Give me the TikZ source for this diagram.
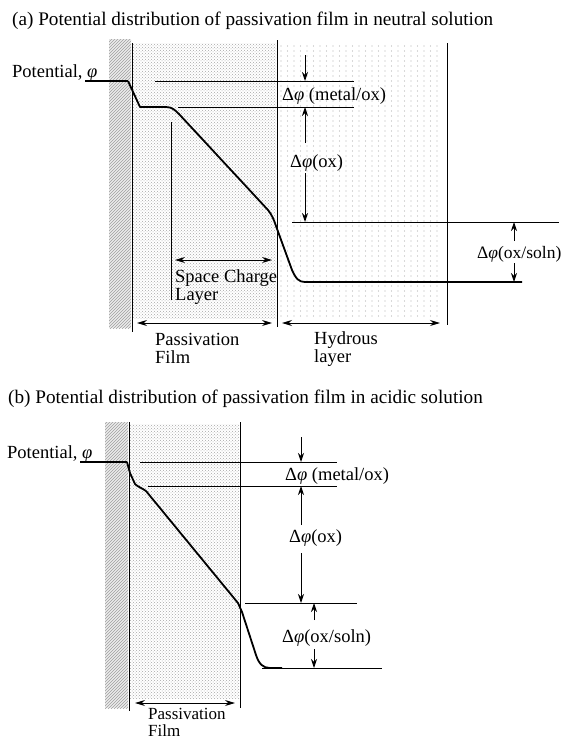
\documentclass[tikz,border=0pt]{standalone}
\usepackage{fontspec}
\setmainfont{Liberation Serif}
\usetikzlibrary{patterns,arrows.meta}
\begin{document}
\begin{tikzpicture}[x=1pt,y=-1pt,
  lbl/.style={font=\fontsize{18.5}{18}\selectfont, inner sep=0pt, align=left},
  ttl/.style={font=\fontsize{19.2}{20}\selectfont, inner sep=0pt},
  thinline/.style={line width=0.9pt},
  curveline/.style={line width=1.8pt, line join=round},
  dimarrow/.style={line width=0.9pt, -{Stealth[length=9pt,width=6pt]}},
  dblarrow/.style={line width=0.9pt, {Stealth[length=10pt,width=6pt]}-{Stealth[length=10pt,width=6pt]}},
  stipple/.style={pattern=crosshatch dots, pattern color=gray!70},
  hatchbar/.style={pattern=north east lines, pattern color=gray!75},
]
\useasboundingbox (0,0) rectangle (564,742);

% ================= (a) =================
\fill[stipple] (133,43) rectangle (276,318);
\foreach \x in {281,287.5,...,438} \foreach \y in {46,51,...,318} \fill[gray!60] (\x,\y) circle (0.55pt);
\fill[gray!15] (109,39) rectangle (131,328);
\fill[hatchbar] (109,39) rectangle (131,328);

\coordinate (am1) at (132,43);  \coordinate (am2) at (132,332);
\coordinate (af1) at (277,40);  \coordinate (af2) at (277,327);
\coordinate (ar1) at (447,43);  \coordinate (ar2) at (447,325);
\coordinate (as1) at (171,122); \coordinate (as2) at (171,300);
\draw[thinline] (am1) -- (am2);
\draw[thinline] (af1) -- (af2);
\draw[thinline] (ar1) -- (ar2);
\draw[thinline] (as1) -- (as2);

\coordinate (al1a) at (155,81);  \coordinate (al1b) at (354,81);
\coordinate (al2a) at (178,107); \coordinate (al2b) at (354,107);
\coordinate (al3a) at (292,222); \coordinate (al3b) at (559,222);
\draw[thinline] (al1a) -- (al1b);
\draw[thinline] (al2a) -- (al2b);
\draw[thinline] (al3a) -- (al3b);

\coordinate (ap0) at (85,81);
\coordinate (ap1) at (128,81);
\draw[line width=1.2pt] (ap0) -- (ap1);
\draw[curveline] (ap1) -- (140,107) -- (166,107)
  .. controls (172,107) and (175,110) .. (179,114) -- (268,210)
  .. controls (272,215) and (274,220) .. (276,226) -- (292,270)
  .. controls (296,279) and (299,282) .. (305,282) -- (522,282);

\node[ttl, anchor=base west] (ta) at (12,25) {(a) Potential distribution of passivation film in neutral solution};
\node[lbl, anchor=base west] (apot) at (12,77) {Potential, \textit{φ}};
\node[lbl, anchor=base west] (amo) at (282,100) {Δ\textit{φ} (metal/ox)};
\node[lbl, anchor=base west] (aox) at (290,167) {Δ\textit{φ}(ox)};
\node[lbl, font=\fontsize{17.5}{18}\selectfont, anchor=base west] (aos) at (477,258) {Δ\textit{φ}(ox/soln)};
\node[lbl, anchor=base west] (asc) at (175,300) {Space Charge\\Layer};
\node[lbl, anchor=base west] (apf) at (155,363) {Passivation\\Film};
\node[lbl, anchor=base west] (ahy) at (314,362) {Hydrous\\layer};

\coordinate (ad1a) at (305,55);  \coordinate (ad1b) at (305,81);
\coordinate (ad2a) at (305,143); \coordinate (ad2b) at (305,107);
\coordinate (ad3a) at (305,173); \coordinate (ad3b) at (305,222);
\coordinate (ad4a) at (514,241); \coordinate (ad4b) at (514,222);
\coordinate (ad5a) at (514,263); \coordinate (ad5b) at (514,282);
\draw[dimarrow] (ad1a) -- (ad1b);
\draw[dimarrow] (ad2a) -- (ad2b);
\draw[dimarrow] (ad3a) -- (ad3b);
\draw[dimarrow] (ad4a) -- (ad4b);
\draw[dimarrow] (ad5a) -- (ad5b);

\coordinate (ah1a) at (175,260); \coordinate (ah1b) at (272,260);
\coordinate (ah2a) at (137,323); \coordinate (ah2b) at (272,323);
\coordinate (ah3a) at (282,323); \coordinate (ah3b) at (440,323);
\draw[dblarrow] (ah1a) -- (ah1b);
\draw[dblarrow] (ah2a) -- (ah2b);
\draw[dblarrow] (ah3a) -- (ah3b);

% ================= (b) =================
\fill[stipple] (130,424) rectangle (239,698);
\fill[gray!15] (105,422) rectangle (128,708);
\fill[hatchbar] (105,422) rectangle (128,708);

\coordinate (bm1) at (129,422); \coordinate (bm2) at (129,711);
\coordinate (bf1) at (240,422); \coordinate (bf2) at (240,708);
\draw[thinline] (bm1) -- (bm2);
\draw[thinline] (bf1) -- (bf2);

\coordinate (bl1a) at (140,462); \coordinate (bl1b) at (337,462);
\coordinate (bl2a) at (148,486); \coordinate (bl2b) at (337,486);
\coordinate (bl3a) at (245,603); \coordinate (bl3b) at (357,603);
\coordinate (bl4a) at (262,668); \coordinate (bl4b) at (382,668);
\draw[thinline] (bl1a) -- (bl1b);
\draw[thinline] (bl2a) -- (bl2b);
\draw[thinline] (bl3a) -- (bl3b);
\draw[thinline] (bl4a) -- (bl4b);

\coordinate (bp0) at (80,462);
\coordinate (bp1) at (127,462);
\draw[line width=1.2pt] (bp0) -- (bp1);
\draw[curveline] (bp1) -- (130,473) -- (135,484)
  .. controls (138,487) and (142,488) .. (146,491) -- (238,603) -- (242,612) -- (256,655)
  .. controls (259,664) and (263,668) .. (270,668) -- (282,668);

\node[ttl, anchor=base west] (tb) at (8,403) {(b) Potential distribution of passivation film in acidic solution};
\node[lbl, anchor=base west] (bpot) at (7,458) {Potential, \textit{φ}};
\node[lbl, anchor=base west] (bmo) at (285,480) {Δ\textit{φ} (metal/ox)};
\node[lbl, anchor=base west] (box) at (289,542) {Δ\textit{φ}(ox)};
\node[lbl, anchor=base west] (bos) at (282,642) {Δ\textit{φ}(ox/soln)};
\node[lbl, font=\fontsize{17}{17}\selectfont, anchor=base west] (bpf) at (148,736) {Passivation\\Film};

\coordinate (bd1a) at (301,437); \coordinate (bd1b) at (301,462);
\coordinate (bd2a) at (301,525); \coordinate (bd2b) at (301,486);
\coordinate (bd3a) at (301,553); \coordinate (bd3b) at (301,603);
\coordinate (bd4a) at (314,620); \coordinate (bd4b) at (314,603);
\coordinate (bd5a) at (314,649); \coordinate (bd5b) at (314,668);
\draw[dimarrow] (bd1a) -- (bd1b);
\draw[dimarrow] (bd2a) -- (bd2b);
\draw[dimarrow] (bd3a) -- (bd3b);
\draw[dimarrow] (bd4a) -- (bd4b);
\draw[dimarrow] (bd5a) -- (bd5b);

\coordinate (bh1a) at (135,703); \coordinate (bh1b) at (235,703);
\draw[dblarrow] (bh1a) -- (bh1b);
\end{tikzpicture}
\end{document}
